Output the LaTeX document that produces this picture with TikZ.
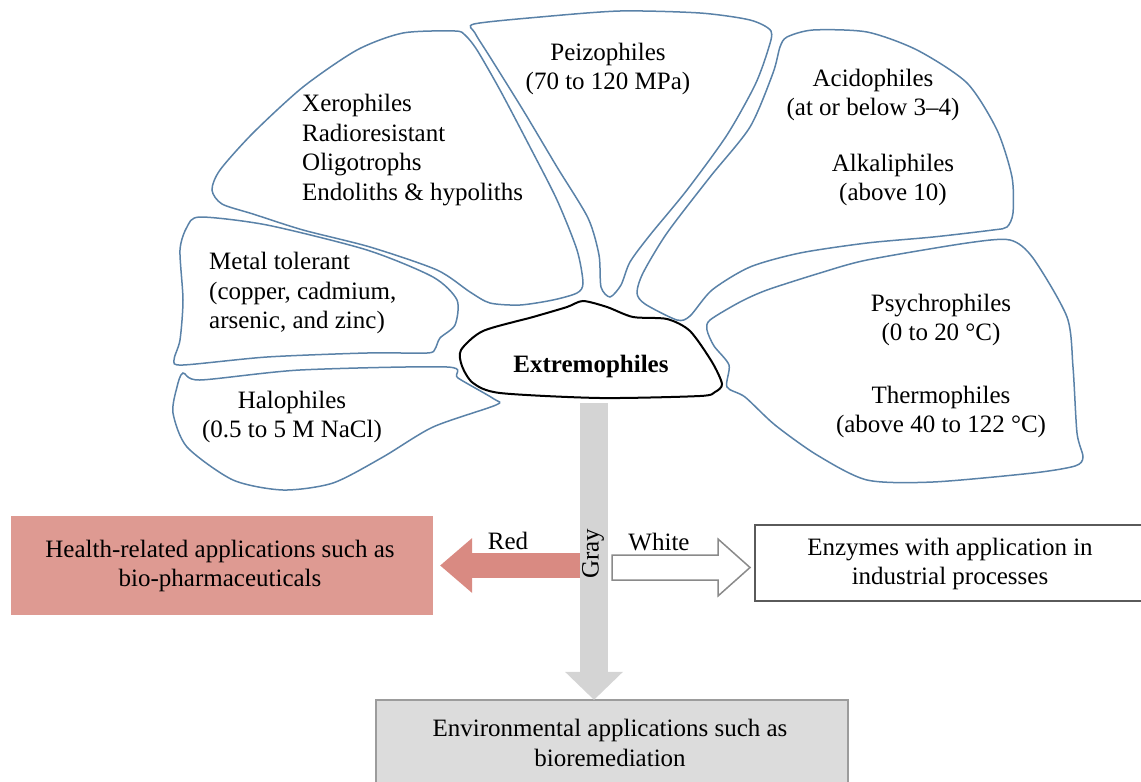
\documentclass[tikz,border=0pt]{standalone}
\usepackage{fontspec}
\setmainfont{Liberation Serif}
\usetikzlibrary{arrows.meta}
\definecolor{blobblue}{HTML}{5A82A8}
\definecolor{redfill}{HTML}{DE9A92}
\definecolor{redarr}{HTML}{D98A82}
\definecolor{grayarr}{HTML}{D4D4D4}
\definecolor{envfill}{HTML}{DCDCDC}
\definecolor{envline}{HTML}{9C9C9C}
\definecolor{boxline}{HTML}{5A5A5A}
\definecolor{warrline}{HTML}{8A8A8A}
\begin{document}
\begin{tikzpicture}[x=1pt,y=-1pt,
  every node/.style={font=\fontsize{25}{29.5}\selectfont, inner sep=0pt},
  blob/.style={draw=blobblue, line width=1.5pt, fill=white, smooth cycle, tension=0.45},
  core/.style={draw=black, line width=2pt, fill=white, smooth cycle, tension=0.45},
  lbl/.style={align=center},
]
\useasboundingbox (0,0) rectangle (1141,782);

% ---------- blobs ----------
% Peizophiles
\draw[blob] plot coordinates {(474,24) (540,17) (620,11) (700,13) (750,20) (771,31) (768,50) (755,85) (727,135) (687,190) (650,235) (630,262) (621,285) (610,297) (601,287) (599,255) (588,218) (557,167) (523,110) (490,57) (475,33)};
% Xerophiles
\draw[blob] plot coordinates {(455,31) (403,33) (357,50) (303,87) (253,133) (220,170) (212,190) (222,204) (253,214) (303,230) (370,247) (437,270) (470,292) (490,303) (520,305) (553,300) (577,293) (583,283) (577,250) (557,200) (530,147) (500,90) (477,50) (465,35)};
% Acidophiles
\draw[blob] plot coordinates {(787,37) (813,30) (867,32) (917,50) (967,83) (997,130) (1012,177) (1013,213) (1007,227) (993,230) (933,237) (867,243) (800,253) (750,267) (712,290) (690,316) (677,320) (645,304) (637,293) (643,273) (667,233) (710,177) (750,127) (773,73) (780,47)};
% Psychrophiles / Thermophiles
\draw[blob] plot coordinates {(710,320) (740,302) (767,290) (820,273) (867,260) (967,243) (1010,240) (1033,258) (1067,317) (1073,367) (1077,433) (1083,457) (1075,466) (1033,473) (933,482) (867,480) (817,455) (775,425) (745,397) (727,387) (729,365) (714,346) (707,330)};
% Metal tolerant
\draw[blob] plot coordinates {(200,217) (267,225) (367,250) (433,277) (457,300) (455,325) (440,338) (435,349) (427,353) (367,353) (267,357) (183,365) (174,360) (180,340) (183,300) (180,250) (187,227)};
% Halophiles
\draw[blob] plot coordinates {(183,373) (200,380) (300,370) (447,367) (458,378) (494,399) (496,405) (433,427) (383,457) (333,483) (283,490) (233,480) (187,447) (173,413) (177,387)};
% Extremophiles core
\draw[core] plot coordinates {(461,350) (483,331) (533,317) (567,307) (583,301) (607,307) (633,317) (667,319) (690,331) (712,362) (722,384) (715,392) (700,396) (600,398) (500,393) (473,383) (462,366)};

% ---------- blob texts ----------
\node[lbl] (peizo) at (608,69) {Peizophiles\\(70 to 120 MPa)};
\node[align=left, anchor=west] (xero) at (302,150) {Xerophiles\\Radioresistant\\Oligotrophs\\Endoliths \& hypoliths};
\node[lbl] (acido) at (873,95) {Acidophiles\\(at or below 3--4)};
\node[lbl] (alkali) at (893,180) {Alkaliphiles\\(above 10)};
\node[align=left, anchor=west] (metal) at (209,293) {Metal tolerant\\(copper, cadmium,\\arsenic, and zinc)};
\node[lbl] (halo) at (292,417) {Halophiles\\(0.5 to 5 M NaCl)};
\node[lbl] (psychro) at (941,320) {Psychrophiles\\(0 to 20 °C)};
\node[lbl] (thermo) at (941,412) {Thermophiles\\(above 40 to 122 °C)};
\node[font=\fontsize{25}{29.5}\selectfont\bfseries] (extremo) at (591,366) {Extremophiles};

% ---------- application boxes ----------
\fill[redfill] (11,516) rectangle (433,615);
\node (health) at (222,565.5) [minimum width=422pt, minimum height=99pt] {};
\node[lbl] (healthtxt) at (220,566) {Health-related applications such as\\bio-pharmaceuticals};

\draw[boxline, line width=2.2pt, fill=white] (755,525) rectangle (1150,601);
\node (enzymes) at (952,563) [minimum width=394pt, minimum height=76pt] {};
\node[lbl] (enzymestxt) at (950,564) {Enzymes with application in\\industrial processes};

\draw[envline, line width=1.5pt, fill=envfill] (376,700) rectangle (848,800);
\node (envbox) at (612,741) [minimum width=472pt, minimum height=82pt] {};
\node[lbl] (envtxt) at (610,743) {Environmental applications such as\\bioremediation};

% ---------- arrows ----------
\coordinate (stem) at (594,403);
\coordinate (split) at (594,565.5);
\draw[grayarr, line width=28pt, -{Triangle[width=58pt,length=28pt,line width=0pt]}]
  (stem) -- (stem |- envbox.north);
\draw[redarr, line width=25pt, -{Triangle[width=55pt,length=32pt,line width=0pt]}]
  ([xshift=-14pt]split) -- ([xshift=7pt]health.east |- split);
\draw[warrline, line width=1.5pt, fill=white]
  (612,555) -- (718,555) -- (718,539) -- (750,567.5) -- (718,596) -- (718,580) -- (612,580) -- cycle;

\node (redlbl) at (508,541) {Red};
\node (whitelbl) at (659,542) {White};
\node[rotate=90] (graylbl) at (593,554) {Gray};
\end{tikzpicture}
\end{document}
